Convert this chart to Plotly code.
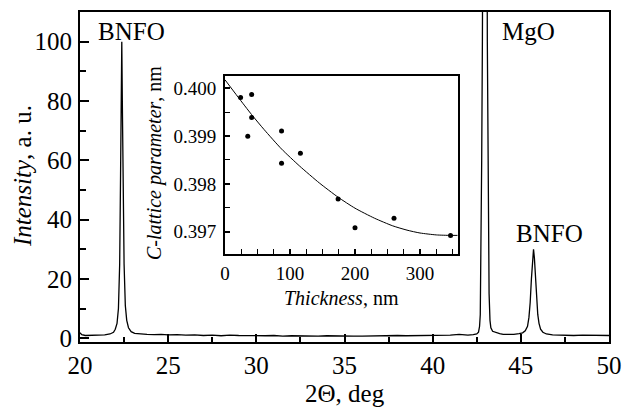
import plotly.graph_objects as go

# XRD spectrum (2-theta, deg ; intensity, a.u.)
two_theta = [20.0, 20.1, 20.3, 20.6, 21.0, 21.4, 21.7, 21.9, 22.0, 22.1, 22.18, 22.25, 22.3, 22.34,
             22.37, 22.40, 22.44, 22.5, 22.57, 22.65, 22.75, 22.9, 23.1, 23.4, 23.8, 24.2, 24.6,
             25.0, 25.5, 26.0, 26.5, 27.0, 27.5, 28.0, 28.5, 29.0, 29.5, 30.0, 30.5, 31.0, 31.5,
             32.0, 32.5, 33.0, 33.5, 34.0, 34.5, 35.0, 35.5, 36.0, 36.5, 37.0, 37.5, 38.0, 38.5,
             39.0, 39.5, 40.0, 40.5, 41.0, 41.5, 41.8, 42.0, 42.3, 42.5, 42.6, 42.66, 42.7, 42.74,
             42.78, 42.82, 42.88, 43.0, 43.06, 43.1, 43.15, 43.2, 43.25, 43.3, 43.4, 43.6, 43.8,
             44.0, 44.3, 44.6, 44.9, 45.1, 45.25, 45.38, 45.46, 45.53, 45.6, 45.66, 45.72, 45.77,
             45.83, 45.89, 45.96, 46.03, 46.12, 46.25, 46.45, 46.8, 47.2, 47.6, 48.0, 48.5, 49.0,
             49.5, 50.0]
intensity = [1.8, 1.2, 0.9, 1.0, 0.9, 1.1, 1.4, 2.0, 3.0, 5.0, 10, 25, 55, 85,
             100, 80, 50, 25, 11, 6, 3.5, 2.2, 1.6, 1.4, 1.3, 1.2, 1.3,
             1.1, 1.2, 1.0, 1.1, 0.9, 1.0, 0.8, 1.0, 0.9, 0.8, 0.9, 0.8, 0.9, 0.7,
             0.8, 0.7, 0.8, 0.7, 0.8, 0.7, 0.8, 0.7, 0.7, 0.8, 0.7, 0.8, 0.9, 0.8,
             0.8, 0.9, 1.0, 0.9, 1.0, 1.3, 1.1, 1.0, 1.2, 1.4, 2.0, 4, 8, 25,
             60, 100, 200, 400, 200, 100, 40, 15, 6, 3.5, 2.3, 1.8, 1.5,
             1.3, 1.2, 1.3, 1.5, 1.8, 2.5, 4, 7, 12, 20, 27, 30, 27,
             20, 13, 8, 5, 3, 2, 1.4, 1.1, 1.0, 1.1, 0.9, 1.0, 0.9,
             1.0, 0.9]

# Inset: measured C-lattice parameter vs thickness
thickness = [24, 41, 35, 41, 87, 87, 116, 174, 200, 260, 347]
c_param = [0.39981, 0.39987, 0.39900, 0.39939, 0.39911, 0.39843, 0.39864, 0.39768, 0.39708, 0.39728, 0.39692]

# Inset: fitted curve
fit_thickness = [0, 20, 41, 60, 87, 115, 145, 174, 200, 230, 258, 280, 300, 325, 346, 358]
fit_c = [0.40018, 0.39982, 0.39945, 0.39914, 0.39873, 0.39837, 0.39802, 0.39772, 0.39749, 0.39728,
         0.39712, 0.39703, 0.39697, 0.39693, 0.39692, 0.39692]

x_ticks_main = [20, 25, 30, 35, 40, 45, 50]
y_ticks_main = [0, 20, 40, 60, 80, 100]
x_ticks_inset = [0, 100, 200, 300]
y_ticks_inset = [0.397, 0.398, 0.399, 0.400]

FONT = "Liberation Serif, Times New Roman, serif"

fig = go.Figure()
fig.add_trace(go.Scatter(x=two_theta, y=intensity, mode="lines",
                         line=dict(color="black", width=1.3), xaxis="x", yaxis="y",
                         showlegend=False, hoverinfo="skip"))
fig.add_trace(go.Scatter(x=fit_thickness, y=fit_c, mode="lines", line_shape="spline",
                         line=dict(color="black", width=1, smoothing=0.6), xaxis="x2", yaxis="y2",
                         showlegend=False))
fig.add_trace(go.Scatter(x=thickness, y=c_param, mode="markers",
                         marker=dict(color="black", size=5), xaxis="x2", yaxis="y2",
                         showlegend=False))

L, R, T, B = 80, 14, 12, 66
W, H = 623, 408
pw, ph = W - L - R, H - T - B

def px_x(p):
    return (p - L) / pw

def px_y(p):
    return (H - B - p) / ph

axis_common = dict(showline=True, linecolor="black", linewidth=2, mirror=True,
                   showgrid=False, zeroline=False, ticks="inside", tickcolor="black",
                   tickwidth=1.5, automargin=False)

fig.update_layout(
    template="none",
    width=W, height=H,
    margin=dict(l=L, r=R, t=T, b=B, autoexpand=False),
    paper_bgcolor="white", plot_bgcolor="white",
    font=dict(family=FONT, color="black"),
    xaxis=dict(range=[20, 50], tickvals=x_ticks_main, ticklen=8,
               minor=dict(dtick=2.5, ticks="inside", ticklen=5, tickcolor="black", tickwidth=1.5),
               tickfont=dict(size=25, family=FONT), ticklabelstandoff=0, **axis_common),
    yaxis=dict(range=[-1.3, 110], tickvals=y_ticks_main, ticklen=9,
               minor=dict(dtick=10, ticks="inside", ticklen=6, tickcolor="black", tickwidth=1.5),
               tickfont=dict(size=25, family=FONT), ticklabelstandoff=1, **axis_common),
    xaxis2=dict(domain=[px_x(225), px_x(457.7)], anchor="y2", range=[0, 358],
                tickvals=x_ticks_inset, ticklen=5,
                minor=dict(dtick=25, ticks="inside", ticklen=5, tickcolor="black", tickwidth=1.2),
                tickfont=dict(size=19, family=FONT), ticklabelstandoff=1, **axis_common),
    yaxis2=dict(domain=[px_y(254), px_y(76)], anchor="x2", range=[0.39653, 0.40026],
                tickvals=y_ticks_inset, tickformat=".3f", ticklen=5,
                minor=dict(dtick=0.0005, ticks="inside", ticklen=5, tickcolor="black", tickwidth=1.2),
                tickfont=dict(size=19, family=FONT), ticklabelstandoff=3, **axis_common),
)

ann = [
    dict(text="BNFO", x=px_x(131), y=px_y(31), size=25),
    dict(text="MgO", x=px_x(528.5), y=px_y(31), size=25),
    dict(text="BNFO", x=px_x(549), y=px_y(233), size=25),
    dict(text="2Θ, deg", x=px_x(345), y=px_y(394), size=25),
    dict(text="<i>Intensity</i>, a. u.", x=px_x(22), y=px_y(176), size=25, angle=-90),
    dict(text="<i>C-lattice parameter</i>, nm", x=px_x(155), y=px_y(163), size=20, angle=-90),
    dict(text="<i>Thickness</i>, nm", x=px_x(341.7), y=px_y(298), size=20),
]
for a in ann:
    fig.add_annotation(text=a["text"], x=a["x"], y=a["y"], xref="paper", yref="paper",
                       xanchor="center", yanchor="middle", showarrow=False,
                       textangle=a.get("angle", 0),
                       font=dict(size=a["size"], family=FONT, color="black"))

fig.write_html("out.html")
